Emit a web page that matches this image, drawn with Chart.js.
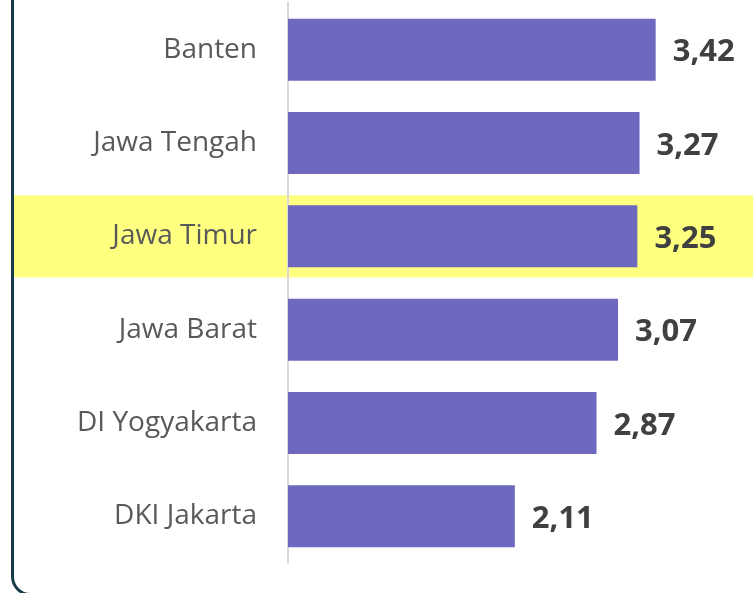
<!DOCTYPE html>
<html>
<head>
<meta charset="utf-8">
<script src="https://cdn.jsdelivr.net/npm/chart.js@4/dist/chart.umd.min.js"></script>
<style>
html,body{margin:0;padding:0;background:#fff;overflow:hidden;}
#c{display:block;}
</style>
</head>
<body>
<canvas id="c" width="753" height="593"></canvas>
<script>
const categories = ["Banten", "Jawa Tengah", "Jawa Timur", "Jawa Barat", "DI Yogyakarta", "DKI Jakarta"];
const values = [3.42, 3.27, 3.25, 3.07, 2.87, 2.11];
const highlighted = ["Jawa Timur"];

const frame = {
  id: 'frame',
  beforeDraw(chart) {
    const ctx = chart.ctx;
    const y = chart.scales.y;
    const step = (y.bottom - y.top) / categories.length;
    ctx.save();
    ctx.fillStyle = '#FFFF80';
    highlighted.forEach(name => {
      const i = categories.indexOf(name);
      const cy = y.getPixelForValue(i);
      ctx.fillRect(14, cy - step * 0.44, chart.width - 14, step * 0.88);
    });
    ctx.strokeStyle = '#17394A';
    ctx.lineWidth = 3;
    const x0 = 12.5, yb = 594.5, r = 18;
    ctx.beginPath();
    ctx.moveTo(x0, 0);
    ctx.lineTo(x0, yb - r);
    ctx.arcTo(x0, yb, x0 + r, yb, r);
    ctx.lineTo(chart.width, yb);
    ctx.stroke();
    ctx.restore();
  }
};

const valueLabels = {
  id: 'valueLabels',
  afterDatasetsDraw(chart) {
    const ctx = chart.ctx;
    const meta = chart.getDatasetMeta(0);
    ctx.save();
    ctx.font = 'bold 31px "Open Sans"';
    ctx.fillStyle = '#404040';
    ctx.textAlign = 'left';
    ctx.textBaseline = 'middle';
    meta.data.forEach((bar, i) => {
      const txt = values[i].toFixed(2).replace('.', ',');
      ctx.fillText(txt, bar.x + 17, bar.y + 3);
    });
    ctx.restore();
  }
};

new Chart(document.getElementById('c'), {
  type: 'bar',
  data: {
    labels: categories,
    datasets: [{
      data: values,
      backgroundColor: '#6E69BE',
      borderWidth: 0,
      barPercentage: 0.665,
      categoryPercentage: 1.0
    }]
  },
  options: {
    indexAxis: 'y',
    responsive: false,
    animation: false,
    devicePixelRatio: 1,
    layout: { padding: { top: 3, bottom: 30, left: 0, right: 35 } },
    plugins: { legend: { display: false }, tooltip: { enabled: false } },
    scales: {
      x: { display: false, min: 0, max: 4 },
      y: {
        afterFit(scale) { scale.width = 288; scale.paddingTop = 0; scale.paddingBottom = 0; },
        grid: { display: false, drawTicks: false },
        border: { display: true, color: '#D9D9D9', width: 2 },
        ticks: {
          color: '#595959',
          padding: 31,
          font: { family: '"Open Sans"', size: 28 }
        }
      }
    }
  },
  plugins: [frame, valueLabels]
});
</script>
</body>
</html>
